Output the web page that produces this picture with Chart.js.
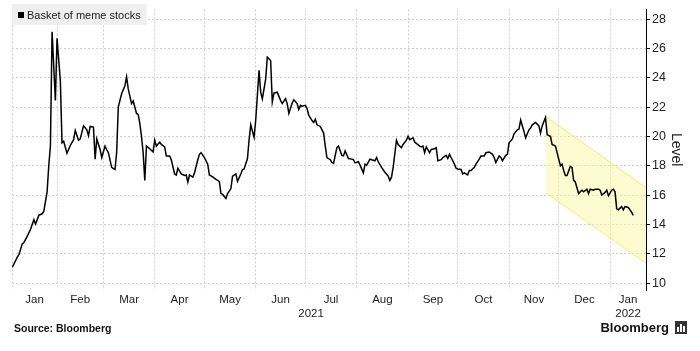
<!DOCTYPE html>
<html>
<head>
<meta charset="utf-8">
<script src="https://cdn.jsdelivr.net/npm/chart.js@4.4.1/dist/chart.umd.min.js"></script>
<style>
  html, body { margin: 0; padding: 0; background: #fff; }
  canvas { display: block; }
</style>
</head>
<body>
<canvas id="memeChart" width="700" height="351"></canvas>
<script>
// x values are days counted from 2021-01-01
const days = [
    4, 7, 8, 10, 11, 13, 15, 17, 18, 20, 22, 23, 25, 26, 27, 28, 30, 31, 33, 34, 35, 37, 39, 41, 42, 44, 45, 47, 49, 50,
    51, 53, 54, 55, 57, 58, 60, 61, 62, 64, 66, 67, 68, 70, 72, 73, 74, 76, 77, 79, 80, 81, 82, 83, 84, 85, 87, 89, 90, 91,
    93, 94, 96, 97, 99, 100, 102, 103, 104, 106, 108, 109, 110, 111, 113, 114, 116, 117, 118, 120, 122, 123, 125, 126, 127, 129, 130, 131, 133, 134,
    136, 137, 139, 140, 142, 143, 144, 146, 147, 148, 150, 151, 153, 154, 155, 157, 158, 160, 161, 162, 164, 166, 167, 169, 170, 171, 173, 174, 176, 177,
    178, 179, 181, 182, 183, 185, 186, 187, 188, 190, 192, 193, 194, 196, 197, 198, 200, 201, 203, 204, 205, 207, 209, 210, 211, 213, 214, 216, 217, 218,
    220, 221, 223, 224, 225, 227, 229, 231, 232, 233, 234, 236, 237, 239, 240, 242, 243, 244, 246, 247, 248, 250, 251, 252, 253, 254, 256, 257, 259, 260,
    261, 263, 264, 266, 267, 268, 270, 271, 272, 273, 275, 276, 277, 279, 280, 281, 283, 284, 286, 287, 289, 290, 292, 294, 295, 296, 298, 299, 300, 302,
    303, 304, 306, 307, 309, 310, 311, 313, 314, 316, 317, 318, 320, 322, 323, 324, 326, 327, 329, 330, 332, 333, 335, 336, 337, 338, 339, 341, 342, 343,
    344, 346, 347, 348, 349, 351, 352, 353, 355, 356, 358, 359, 360, 362, 363, 364, 366, 367, 368, 369, 370, 372, 373, 374, 376, 378, 379
];
const levels = [
    11.08, 11.77, 11.95, 12.68, 12.77, 13.2, 13.67, 14.33, 14.04, 14.62, 14.73, 14.89, 16.23, 18.01, 19.35, 27.15, 22.47, 26.7, 23.8, 19.57, 19.68, 18.86, 19.39, 19.79, 20.42, 19.75, 19.84, 20.73, 20.46, 20.06,
    20.69, 20.64, 18.46, 19.84, 19.12, 18.57, 19.35, 19.1, 18.9, 17.9, 17.75, 18.9, 22.03, 22.92, 23.47, 24.07, 23.25, 22.25, 22.43, 21.58, 21.51, 20.9, 20.02, 18.9, 17.0, 19.35, 19.17, 18.95, 19.75, 19.35,
    19.62, 19.46, 19.3, 18.68, 18.68, 18.42, 17.45, 17.38, 17.84, 17.45, 17.34, 17.38, 16.9, 17.38, 17.23, 17.52, 18.42, 18.79, 18.9, 18.57, 18.12, 17.38, 17.25, 17.16, 17.08, 16.94, 16.11, 16.05, 15.78, 16.11,
    16.45, 17.3, 17.45, 16.94, 17.45, 17.75, 17.79, 18.5, 19.79, 20.8, 19.95, 21.13, 24.52, 23.03, 22.58, 23.92, 25.41, 25.19, 22.36, 22.96, 23.03, 22.47, 22.25, 22.58, 22.25, 21.58, 22.29, 22.51, 22.25, 21.85,
    22.13, 22.07, 22.13, 21.91, 21.46, 21.09, 20.96, 21.18, 20.8, 20.69, 20.24, 19.35, 18.57, 18.42, 18.23, 18.17, 19.24, 19.35, 18.72, 18.68, 19.02, 18.5, 18.46, 18.42, 18.2, 18.28, 18.05, 17.52, 18.12, 18.05,
    18.46, 18.42, 18.35, 18.57, 18.28, 17.9, 17.57, 17.3, 17.01, 17.23, 17.9, 19.75, 19.46, 19.24, 19.46, 19.75, 20.02, 19.79, 19.91, 19.62, 19.53, 19.35, 19.3, 19.35, 18.9, 19.3, 18.9, 19.12, 19.17, 19.24,
    18.35, 18.42, 18.57, 18.72, 18.5, 18.79, 18.35, 18.12, 17.84, 17.79, 17.75, 17.45, 17.52, 17.38, 17.68, 17.68, 17.9, 18.12, 18.46, 18.68, 18.68, 18.9, 18.95, 18.79, 18.57, 18.23, 18.68, 18.57, 18.35, 18.72,
    18.79, 19.57, 19.84, 20.19, 20.46, 20.51, 21.13, 20.35, 19.91, 20.46, 20.58, 20.8, 20.96, 20.73, 20.24, 20.73, 21.31, 20.13, 20.02, 19.46, 19.35, 18.9, 18.01, 18.12, 17.68, 17.34, 17.34, 17.97, 17.9, 17.01,
    16.9, 16.11, 16.23, 16.34, 16.23, 16.41, 16.11, 16.41, 16.34, 16.41, 16.41, 16.34, 16.01, 16.19, 16.34, 15.96, 16.34, 16.41, 16.23, 15.07, 15.0, 15.22, 15.0, 15.22, 15.16, 14.84, 14.62
];

// yellow downward channel
const channelDays = [326.3, 386.7];
const channelUpper = [21.36, 16.5];
const channelLower = [16.16, 11.37];

const xMin = 3.8;
const xMax = 386.7;
const monthStarts = [31, 59, 90, 120, 151, 181, 212, 243, 273, 304, 334, 365];
const monthNames = ['Jan', 'Feb', 'Mar', 'Apr', 'May', 'Jun', 'Jul', 'Aug', 'Sep', 'Oct', 'Nov', 'Dec', 'Jan'];
const yearNames = ['2021', '2022'];
const yTicks = [10, 11, 12, 13, 14, 15, 16, 17, 18, 19, 20, 21, 22, 23, 24, 25, 26, 27, 28];

const edges = [xMin, ...monthStarts, xMax];
const monthMids = monthNames.map((m, i) => (edges[i] + edges[i + 1]) / 2);
const yearMids = [(xMin + 365) / 2, (365 + xMax) / 2];
const gridSet = new Set([xMin, ...monthStarts]);

const labelFont = {family: 'Liberation Sans', size: 11.5};

function fixedHeight(h) {
    return function (scale) { scale.height = h; };
}

const footerPlugin = {
    id: 'footer',
    afterDraw(chart) {
        const c = chart.ctx;
        c.save();
        // legend box, sized to its text
        c.font = '11px "Liberation Sans"';
        const legendText = 'Basket of meme stocks';
        const w = c.measureText(legendText).width;
        c.fillStyle = '#efefef';
        c.fillRect(12, 4, w + 21, 21);
        c.fillStyle = '#000';
        c.fillRect(18, 12, 6, 6);
        c.textBaseline = 'middle';
        c.fillStyle = '#222';
        c.fillText(legendText, 27, 15.5);

        // source
        c.font = 'bold 10.5px "Liberation Sans"';
        c.fillStyle = '#111';
        c.fillText('Source: Bloomberg', 14, 329);

        // Bloomberg mark
        c.font = 'bold 13px "Liberation Sans"';
        c.textAlign = 'right';
        c.fillText('Bloomberg', 669, 328);
        c.fillStyle = '#333';
        c.fillRect(675, 321, 12, 13);
        c.fillStyle = '#fff';
        c.fillRect(677, 327, 2, 5);
        c.fillRect(680, 324, 2, 8);
        c.fillRect(683, 326, 2, 6);
        c.restore();
    }
};

new Chart(document.getElementById('memeChart'), {
    type: 'line',
    data: {
        datasets: [
            {
                label: 'Basket of meme stocks',
                data: days.map((d, i) => ({x: d, y: levels[i]})),
                borderColor: '#000',
                borderWidth: 1.5,
                pointRadius: 0,
                fill: false,
                order: 0
            },
            {
                label: 'upper',
                data: channelDays.map((d, i) => ({x: d, y: channelUpper[i]})),
                borderColor: 'rgba(242, 228, 90, 0.9)',
                backgroundColor: 'rgba(255, 246, 150, 0.45)',
                borderWidth: 1,
                pointRadius: 0,
                fill: '+1',
                order: 1
            },
            {
                label: 'lower',
                data: channelDays.map((d, i) => ({x: d, y: channelLower[i]})),
                borderColor: 'rgba(242, 228, 90, 0.9)',
                borderWidth: 1,
                pointRadius: 0,
                fill: false,
                order: 2
            }
        ]
    },
    options: {
        responsive: false,
        animation: false,
        events: [],
        layout: {padding: {left: 12, right: 14, top: 4, bottom: 31}},
        plugins: {
            legend: {display: false},
            tooltip: {enabled: false}
        },
        scales: {
            x: {
                type: 'linear',
                position: 'bottom',
                weight: 0,
                min: xMin,
                max: xMax,
                afterBuildTicks: function (scale) {
                    scale.ticks = [...gridSet, ...monthMids].sort((a, b) => a - b).map(v => ({value: v}));
                },
                afterFit: fixedHeight(15),
                grid: {
                    drawTicks: false,
                    color: ctx => (ctx.tick && gridSet.has(ctx.tick.value)) ? '#cfcfcf' : 'rgba(0,0,0,0)',
                    lineWidth: 1
                },
                border: {display: false, dash: [2, 2]},
                ticks: {
                    autoSkip: false,
                    maxRotation: 0,
                    padding: 3,
                    color: '#222',
                    font: labelFont,
                    callback: function (value) {
                        const i = monthMids.indexOf(value);
                        return i >= 0 ? monthNames[i] : '';
                    }
                }
            },
            xYear: {
                type: 'linear',
                position: 'bottom',
                weight: 1,
                min: xMin,
                max: xMax,
                afterBuildTicks: function (scale) {
                    scale.ticks = yearMids.map(v => ({value: v}));
                },
                afterFit: fixedHeight(15),
                grid: {display: false, drawTicks: false},
                border: {display: false},
                ticks: {
                    autoSkip: false,
                    maxRotation: 0,
                    padding: 2,
                    color: '#222',
                    font: labelFont,
                    callback: function (value) {
                        const i = yearMids.indexOf(value);
                        return i >= 0 ? yearNames[i] : '';
                    }
                }
            },
            y: {
                type: 'linear',
                position: 'right',
                min: 9.53,
                max: 28.67,
                afterBuildTicks: function (scale) {
                    scale.ticks = yTicks.map(v => ({value: v}));
                },
                afterFit: function (scale) { scale.width = 40; },
                grid: {
                    color: ctx => (ctx.tick && ctx.tick.value % 2 === 0) ? '#cfcfcf' : 'rgba(0,0,0,0)',
                    tickColor: ctx => (ctx.tick && ctx.tick.value % 2 === 0) ? '#000' : '#777',
                    tickLength: 4,
                    lineWidth: 1
                },
                border: {display: true, color: '#000', width: 1, dash: [2, 2]},
                ticks: {
                    padding: 2,
                    color: '#222',
                    font: {family: 'Liberation Sans', size: 12.5},
                    callback: function (value) {
                        return value % 2 === 0 ? String(value) : '';
                    }
                },
                title: {
                    display: true,
                    text: 'Level',
                    color: '#222',
                    font: {family: 'Liberation Sans', size: 14},
                    padding: {top: 2, bottom: 0}
                }
            }
        }
    },
    plugins: [footerPlugin]
});
</script>
</body>
</html>
